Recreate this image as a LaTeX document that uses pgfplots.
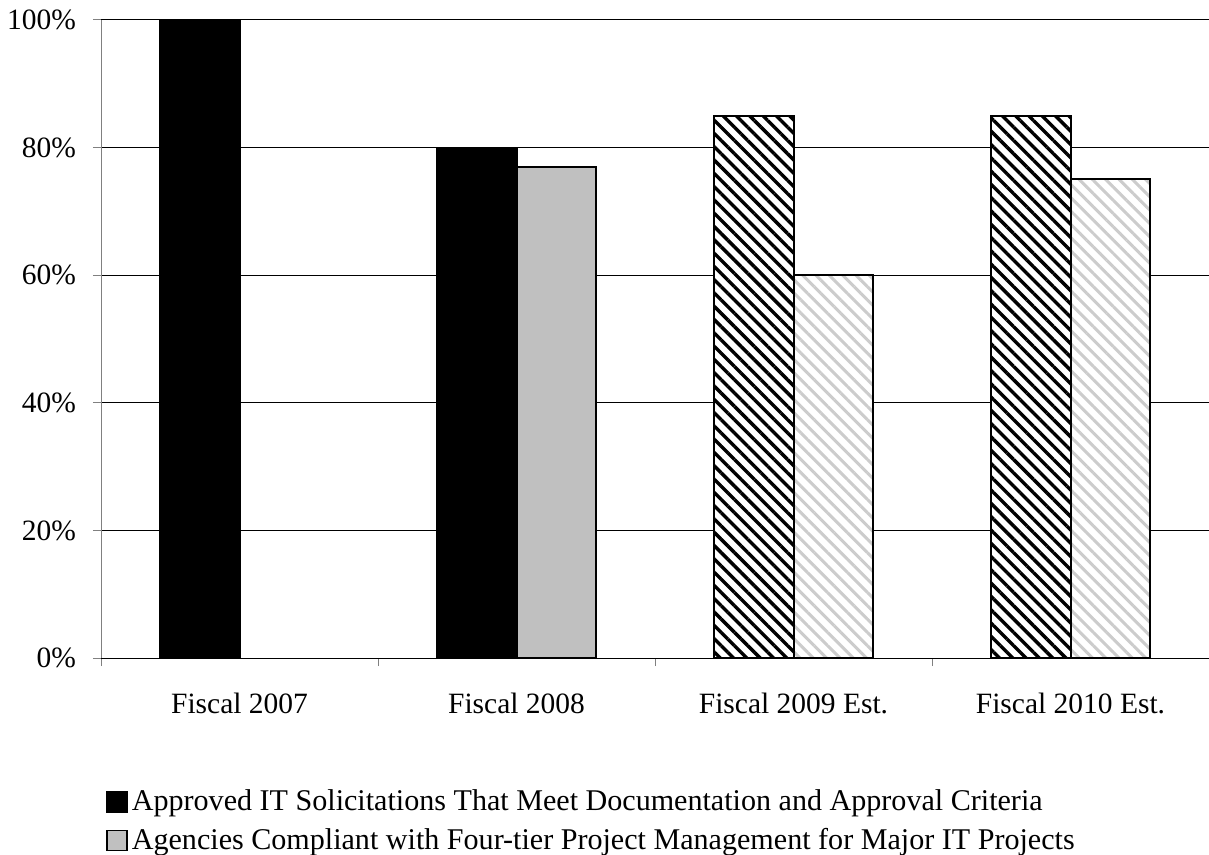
\documentclass[border=0pt]{standalone}
\usepackage{pgfplots}
\pgfplotsset{compat=1.18}
\usepackage{fontspec}
\setmainfont{Liberation Serif}
\usetikzlibrary{patterns.meta}
\definecolor{barGray}{HTML}{C0C0C0}
\definecolor{hatchGray}{HTML}{CCCCCC}
\definecolor{axGray}{HTML}{808080}
\newcommand{\lblfont}{\fontsize{14.8}{17}\selectfont}
\newcommand{\legfont}{\fontsize{15.1}{17}\selectfont}
\begin{document}
\begin{tikzpicture}
\useasboundingbox (0,0) rectangle (604.5bp,427.5bp);
\begin{axis}[
  at={(50.5bp,98.5bp)}, anchor=south west,
  scale only axis, width=554bp, height=319bp,
  ybar, bar width=0.286,
  xmin=-0.5, xmax=3.5, ymin=0, ymax=100,
  axis x line*=bottom, axis y line*=left,
  x axis line style={black, line width=0.5bp, -},
  y axis line style={axGray, line width=0.5bp, -},
  xtick={0,1,2,3},
  xticklabels={Fiscal 2007, Fiscal 2008, Fiscal 2009 Est., Fiscal 2010 Est.},
  major x tick style={draw=none},
  minor xtick={-0.5,0.5,1.5,2.5,3.5},
  minor x tick style={axGray, line width=0.5bp},
  minor tick length=4bp,
  xticklabel style={yshift=-10bp},
  ytick={0,20,40,60,80,100},
  yticklabels={0\%,20\%,40\%,60\%,80\%,100\%},
  yticklabel style={xshift=-5bp},
  major y tick style={axGray, line width=0.5bp},
  major tick length=4bp,
  tick align=outside,
  ymajorgrids, grid style={black, line width=0.5bp},
  tick label style={font=\lblfont},
  legend style={at={(0.0045,-0.2)}, anchor=north west, draw=none,
    font=\legfont, row sep=3.2bp, inner sep=0pt,
    /tikz/every even column/.append style={column sep=2bp}},
  legend cell align=left,
  legend image code/.code={\draw[#1, draw=black, line width=0.75bp] (0bp,-5bp) rectangle (10bp,5bp);},
]
% solid bars
\addplot[fill=black, draw=black, line width=1bp, bar shift=-0.143]
  coordinates {(0,100) (1,80)};
\addplot[fill=barGray, draw=black, line width=1bp, bar shift=0.143]
  coordinates {(1,77)};
% estimated years, hatched
\addplot[forget plot, fill=white, draw=black, line width=1bp, bar shift=-0.143,
  postaction={pattern={Lines[angle=-45, distance=4.7bp, line width=1.7bp]}, pattern color=black}]
  coordinates {(2,85) (3,85)};
\addplot[forget plot, fill=white, draw=black, line width=1bp, bar shift=0.143,
  postaction={pattern={Lines[angle=-45, distance=4.7bp, line width=1.5bp]}, pattern color=hatchGray}]
  coordinates {(2,60) (3,75)};
\legend{Approved IT Solicitations That Meet Documentation and Approval Criteria,
  Agencies Compliant with Four-tier Project Management for Major IT Projects}
\end{axis}
\end{tikzpicture}
\end{document}
